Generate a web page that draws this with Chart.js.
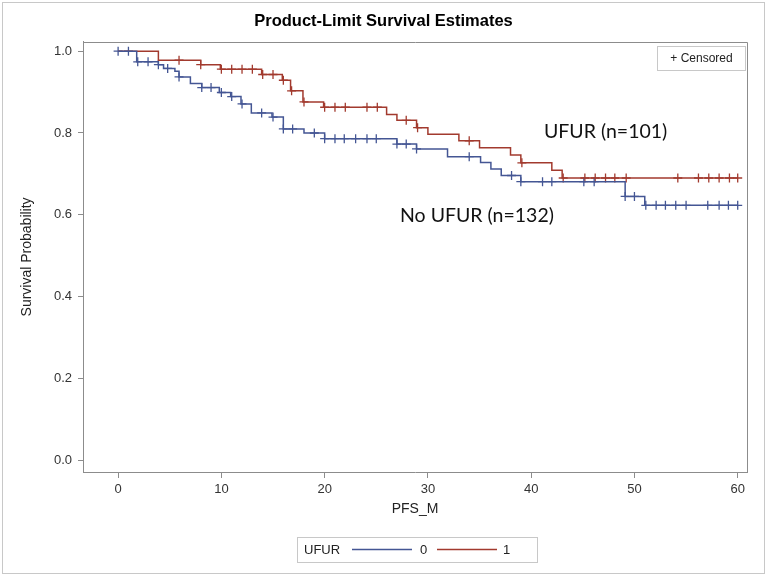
<!DOCTYPE html>
<html>
<head>
<meta charset="utf-8">
<script src="https://cdn.jsdelivr.net/npm/chart.js@4/dist/chart.umd.min.js"></script>
<style>
  html, body { margin: 0; padding: 0; background: #fff; }
  #wrap { width: 767px; height: 576px; position: relative; }
</style>
</head>
<body>
<div id="wrap"><canvas id="c" width="767" height="576"></canvas></div>
<script>
// ---- Data ----
const groupLabels = ['0', '1'];
const groupNames = ['No UFUR (n=132)', 'UFUR (n=101)'];

// UFUR = 0 (blue): event times and survival after each step
const blueTimes = [0, 1.8, 3.9, 4.4, 5.5, 5.9, 7.0, 8.1, 9.8, 10.9, 11.9, 12.9, 14.9, 16.0, 18.0, 20.0, 27.0, 28.9, 31.9, 35.1, 36.1, 37.1, 39.0, 49.1, 51.0, 60.0];
const blueSurv  = [1.0, 0.974, 0.967, 0.958, 0.951, 0.937, 0.921, 0.911, 0.899, 0.889, 0.871, 0.849, 0.839, 0.810, 0.800, 0.786, 0.773, 0.761, 0.742, 0.728, 0.712, 0.696, 0.681, 0.645, 0.623, 0.623];
const blueCensored = [0, 1.0, 1.9, 2.9, 3.9, 4.8, 5.9, 8.1, 9.0, 10.0, 11.0, 12.0, 13.9, 15.0, 16.0, 16.9, 19.0, 20.0, 21.0, 21.9, 23.0, 24.1, 25.0, 27.0, 27.9, 28.9, 34.0, 38.1, 39.0, 41.1, 42.0, 45.1, 46.1, 49.1, 50.0, 51.1, 52.1, 53.0, 54.0, 55.0, 57.1, 58.2, 59.1, 60.0];

// UFUR = 1 (red)
const redTimes = [0, 3.9, 8.0, 9.9, 13.9, 15.9, 16.7, 17.9, 19.9, 26.0, 27.0, 28.9, 30.0, 33.0, 35.0, 38.0, 39.0, 42.0, 43.0, 60.0];
const redSurv  = [1.0, 0.978, 0.967, 0.956, 0.943, 0.929, 0.903, 0.876, 0.863, 0.845, 0.831, 0.813, 0.797, 0.781, 0.764, 0.746, 0.727, 0.709, 0.690, 0.690];
const redCensored = [5.9, 8.0, 10.0, 11.0, 12.0, 13.0, 14.0, 15.0, 16.0, 16.8, 18.0, 20.0, 21.0, 22.0, 24.1, 25.1, 27.9, 29.0, 34.0, 39.1, 43.1, 45.2, 46.2, 47.2, 48.1, 49.2, 54.2, 56.2, 57.2, 58.2, 59.2, 60.0];

const xTickValues = [0, 10, 20, 30, 40, 50, 60];
const yTickValues = [0.0, 0.2, 0.4, 0.6, 0.8, 1.0];

const BLUE = '#445694';
const RED = '#A23A2E';
const AXIS = '#8c8c8c';

function stepPoints(times, surv) {
  return times.map((t, i) => ({ x: t, y: surv[i] }));
}
function survAt(times, surv, t) {
  let s = surv[0];
  for (let i = 0; i < times.length; i++) {
    if (times[i] <= t + 1e-9) s = surv[i];
  }
  return s;
}
function censorPoints(cens, times, surv) {
  return cens.map(t => ({ x: t, y: survAt(times, surv, t) }));
}

const decorPlugin = {
  id: 'decor',
  beforeDraw(chart) {
    const ctx = chart.ctx;
    ctx.save();
    ctx.fillStyle = '#fff';
    ctx.fillRect(0, 0, chart.width, chart.height);
    ctx.restore();
  },
  afterDraw(chart) {
    const ctx = chart.ctx;
    const a = chart.chartArea;
    ctx.save();
    // outer border
    ctx.strokeStyle = '#c8c8c8';
    ctx.lineWidth = 1;
    ctx.strokeRect(2.5, 2.5, chart.width - 5, chart.height - 5);
    // plot frame (top & right)
    ctx.strokeStyle = AXIS;
    ctx.beginPath();
    ctx.moveTo(Math.round(a.left) + 0.5, Math.round(a.top) + 0.5);
    ctx.lineTo(Math.round(a.right) + 0.5, Math.round(a.top) + 0.5);
    ctx.lineTo(Math.round(a.right) + 0.5, Math.round(a.bottom) + 0.5);
    ctx.stroke();

    // "+ Censored" box
    ctx.strokeStyle = '#c8c8c8';
    ctx.strokeRect(657.5, 46.5, 88, 24);
    ctx.fillStyle = '#222';
    ctx.font = '12px "Liberation Sans", Arial, sans-serif';
    ctx.textAlign = 'center';
    ctx.textBaseline = 'middle';
    ctx.fillText('+ Censored', 701.5, 58.5);

    // group annotations
    ctx.font = '19.5px Lato, "Open Sans", sans-serif';
    ctx.fillStyle = '#111';
    ctx.textAlign = 'left';
    ctx.fillText(groupNames[1], 544, 132);
    ctx.fillText(groupNames[0], 400, 216);

    // bottom legend
    ctx.strokeStyle = '#c8c8c8';
    ctx.strokeRect(297.5, 537.5, 240, 25);
    ctx.font = '13px "Liberation Sans", Arial, sans-serif';
    ctx.fillStyle = '#222';
    ctx.textAlign = 'left';
    ctx.fillText('UFUR', 304, 550);
    ctx.lineWidth = 1.5;
    ctx.strokeStyle = chart.data.datasets[0].borderColor;
    ctx.beginPath(); ctx.moveTo(352, 549.5); ctx.lineTo(412, 549.5); ctx.stroke();
    ctx.fillText(groupLabels[0], 420, 550);
    ctx.strokeStyle = chart.data.datasets[1].borderColor;
    ctx.beginPath(); ctx.moveTo(437, 549.5); ctx.lineTo(497, 549.5); ctx.stroke();
    ctx.fillText(groupLabels[1], 503, 550);
    ctx.restore();
  }
};

new Chart(document.getElementById('c'), {
  type: 'line',
  data: {
    datasets: [
      { label: groupLabels[0], data: stepPoints(blueTimes, blueSurv), borderColor: BLUE, borderWidth: 1.5, stepped: true, pointRadius: 0, fill: false },
      { label: groupLabels[1], data: stepPoints(redTimes, redSurv), borderColor: RED, borderWidth: 1.5, stepped: true, pointRadius: 0, fill: false },
      { label: 'c0', data: censorPoints(blueCensored, blueTimes, blueSurv), showLine: false, pointStyle: 'cross', pointRadius: 4.5, borderColor: BLUE, pointBorderWidth: 1.3, backgroundColor: BLUE },
      { label: 'c1', data: censorPoints(redCensored, redTimes, redSurv), showLine: false, pointStyle: 'cross', pointRadius: 4.5, borderColor: RED, pointBorderWidth: 1.3, backgroundColor: RED }
    ]
  },
  options: {
    responsive: false,
    animation: false,
    events: [],
    layout: { padding: { left: 20, right: 20, top: 0, bottom: 54 } },
    plugins: {
      legend: { display: false },
      tooltip: { enabled: false },
      title: {
        display: true,
        text: 'Product-Limit Survival Estimates',
        color: '#000',
        font: { family: '"Liberation Sans", Arial, sans-serif', size: 16.5, weight: 'bold', lineHeight: 1.2 },
        padding: { top: 12, bottom: 10 }
      }
    },
    scales: {
      x: {
        type: 'linear',
        min: -3.4,
        max: 60.9,
        afterBuildTicks: s => { s.ticks = xTickValues.map(v => ({ value: v })); },
        afterFit: s => { s.height = 50; },
        ticks: { color: '#333', font: { family: '"Liberation Sans", Arial, sans-serif', size: 13 }, padding: 4, maxRotation: 0 },
        grid: { drawOnChartArea: false, drawTicks: true, tickLength: 6, color: AXIS },
        border: { display: true, color: AXIS },
        title: { display: true, text: 'PFS_M', color: '#222', font: { family: '"Liberation Sans", Arial, sans-serif', size: 14 }, padding: { top: 6, bottom: 4 } }
      },
      y: {
        type: 'linear',
        min: -0.029,
        max: 1.023,
        afterBuildTicks: s => { s.ticks = yTickValues.map(v => ({ value: v })); },
        afterFit: s => { s.width = 63; },
        ticks: { color: '#333', font: { family: '"Liberation Sans", Arial, sans-serif', size: 13 }, padding: 6, callback: v => Number(v).toFixed(1) },
        grid: { drawOnChartArea: false, drawTicks: true, tickLength: 5, color: AXIS },
        border: { display: true, color: AXIS },
        title: { display: true, text: 'Survival Probability', color: '#222', font: { family: '"Liberation Sans", Arial, sans-serif', size: 14, lineHeight: 1.0 }, padding: { top: 0, bottom: 4 } }
      }
    }
  },
  plugins: [decorPlugin]
});
</script>
</body>
</html>
